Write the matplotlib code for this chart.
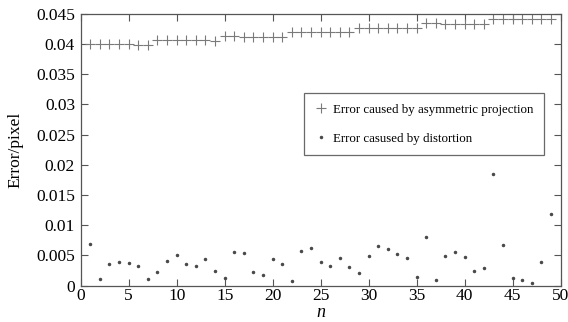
import numpy as np
import matplotlib
matplotlib.use('Agg')
import matplotlib.pyplot as plt

plt.rcParams['font.family'] = ['Liberation Serif', 'DejaVu Serif']

# #############################################################################
# Data
n = np.arange(1, 50)

err_asym = [0.0400, 0.0400, 0.0400, 0.0400, 0.0400, 0.0399, 0.0398,
            0.0407, 0.0407, 0.0407, 0.0407, 0.0407, 0.0406, 0.0405,
            0.0413, 0.0413, 0.0412, 0.0412, 0.0412, 0.0412, 0.0411,
            0.0420, 0.0420, 0.0420, 0.0420, 0.0420, 0.0420, 0.0420,
            0.0427, 0.0427, 0.0427, 0.0427, 0.0426, 0.0426, 0.0426,
            0.0435, 0.0435, 0.0434, 0.0434, 0.0434, 0.0434, 0.0433,
            0.0442, 0.0442, 0.0442, 0.0442, 0.0442, 0.0442, 0.0441]

err_dist = [0.0069, 0.0011, 0.0036, 0.0039, 0.0038, 0.0032, 0.0011,
            0.0022, 0.0040, 0.0050, 0.0035, 0.0032, 0.0044, 0.0025,
            0.0013, 0.0056, 0.0054, 0.0023, 0.0017, 0.0044, 0.0035,
            0.0007, 0.0058, 0.0062, 0.0039, 0.0032, 0.0046, 0.0031,
            0.0021, 0.0049, 0.0066, 0.0060, 0.0053, 0.0046, 0.0015,
            0.0080, 0.0010, 0.0049, 0.0056, 0.0047, 0.0025, 0.0029,
            0.0185, 0.0068, 0.0012, 0.0009, 0.0005, 0.0039, 0.0119]

# #############################################################################
# Plot
fig = plt.figure(figsize=(5.68, 3.22), dpi=100)
ax = fig.add_axes([0.142, 0.113, 0.845, 0.844])

ax.plot(n, err_asym, linestyle='none', marker='+', markersize=7,
        markeredgewidth=0.8, color='#7a7a7a',
        label='Error caused by asymmetric projection')
ax.plot(n, err_dist, linestyle='none', marker='.', markersize=3,
        color='#4a4a4a', label='Error casused by distortion')

ax.set_xlim(0, 50)
ax.set_ylim(0, 0.045)
ax.set_xticks(np.arange(0, 51, 5))
ax.set_yticks(np.arange(0, 0.0451, 0.005))
ax.set_yticklabels(['0', '0.005', '0.01', '0.015', '0.02', '0.025',
                    '0.03', '0.035', '0.04', '0.045'])

ax.tick_params(direction='in', top=True, right=True, length=5,
               width=0.8, color='#555555', labelsize=12.5)
ax.tick_params(axis='x', pad=2)
ax.tick_params(axis='y', pad=4)
for s in ax.spines.values():
    s.set_color('#555555')
    s.set_linewidth(0.9)

ax.set_xlabel('n', fontsize=13, fontstyle='italic', labelpad=0)
ax.set_ylabel('Error/pixel', fontsize=12.5, labelpad=9)

leg = ax.legend(loc='upper left', bbox_to_anchor=(0.465, 0.71),
                fontsize=9.3, frameon=True, fancybox=False,
                borderpad=0.85, labelspacing=1.3, handlelength=0.9,
                handletextpad=0.5, borderaxespad=0)
leg.get_frame().set_edgecolor('#444444')
leg.get_frame().set_linewidth(0.9)

fig.savefig('out.png', dpi=100)
